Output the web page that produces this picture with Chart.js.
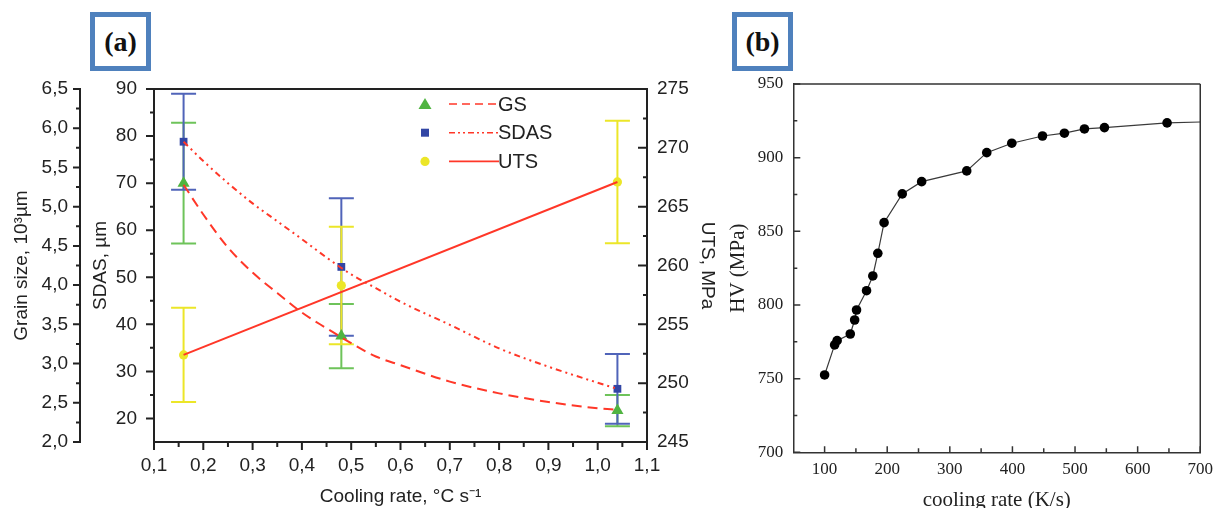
<!DOCTYPE html>
<html>
<head>
<meta charset="utf-8">
<script src="https://cdn.jsdelivr.net/npm/chart.js@4.4.1/dist/chart.umd.min.js"></script>
<style>
  html, body { margin: 0; padding: 0; background: #fff; }
  body { width: 1220px; height: 508px; position: relative; overflow: hidden; }
  .panel { position: absolute; top: 0; height: 508px; }
  #wrapA { left: 0; width: 720px; }
  #wrapB { left: 720px; width: 500px; }
  .tag { position: absolute; top: 12px; width: 61px; height: 59px; box-sizing: border-box;
         border: 5px solid #4f81bd; background: #fff; color: #111; z-index: 2;
         font: bold 28px "Liberation Serif", "Times New Roman", serif;
         display: flex; align-items: center; justify-content: center; }
</style>
</head>
<body>
<div class="panel" id="wrapA"><canvas id="chartA"></canvas></div>
<div class="panel" id="wrapB"><canvas id="chartB"></canvas></div>
<div class="tag" style="left:90px">(a)</div>
<div class="tag" style="left:732px">(b)</div>
<script>
Chart.defaults.font.family = '"Liberation Sans", Arial, sans-serif';
Chart.defaults.font.size = 19;
Chart.defaults.color = '#222';

// ---- panel (a) data, cooling rate in °C/s
const rateA = [0.16, 0.48, 1.04];
const gsVals = [5.30, 3.35, 2.40];
const gsErr = [0.77, 0.41, 0.20];
const sdasVals = [78.8, 52.2, 26.3];
const sdasErr = [10.2, 14.6, 7.4];
const utsVals = [252.4, 258.3, 267.1];
const utsErr = [4.0, 5.0, 5.2];

// fitted curves
const fitRate = [0.16, 0.2, 0.25, 0.3, 0.35, 0.4, 0.45, 0.5, 0.55, 0.6, 0.7, 0.8, 0.9, 1.0, 1.04];
const gsFit = [5.28, 4.90, 4.48, 4.16, 3.90, 3.65, 3.45, 3.26, 3.09, 2.98, 2.77, 2.62, 2.51, 2.43, 2.41];
const sdasFit = [78.8, 74.7, 70.0, 65.7, 61.9, 58.1, 54.2, 50.6, 47.7, 44.8, 39.9, 34.9, 31.0, 27.6, 26.3];
const utsFitRate = [0.16, 1.04];
const utsFit = [252.4, 267.1];

// tick labels
const rateTicks = [0.1, 0.2, 0.3, 0.4, 0.5, 0.6, 0.7, 0.8, 0.9, 1.0, 1.1];
const gsTicks = [2.0, 2.5, 3.0, 3.5, 4.0, 4.5, 5.0, 5.5, 6.0, 6.5];
const sdasTicks = [20, 30, 40, 50, 60, 70, 80, 90];
const utsTicks = [245, 250, 255, 260, 265, 270, 275];

// ---- panel (b) data, cooling rate in K/s
const rateB = [100, 116, 120, 141, 148, 151, 167, 177, 185, 195, 224, 255, 327, 359, 399, 448, 483, 515, 547, 647, 700];
const hvVals = [752.5, 772.9, 775.8, 780.3, 789.8, 796.6, 809.7, 819.7, 835.1, 855.9, 875.4, 883.7, 891.0, 903.4, 909.8, 914.7, 916.6, 919.5, 920.4, 923.6, 924.2];
const rateBTicks = [100, 200, 300, 400, 500, 600, 700];
const hvTicks = [700, 750, 800, 850, 900, 950];

const red = 'rgb(255,55,40)';
const green = 'rgb(80,180,65)';
const blue = 'rgb(50,70,165)';
const yellow = 'rgb(236,230,40)';
const axisCol = '#222';

const xy = (xs, ys) => xs.map((x, i) => ({ x: x, y: ys[i] }));
const toTicks = vals => vals.map(v => ({ value: v }));
const mids = vals => vals.slice(1).map((v, i) => (v + vals[i]) / 2);
const comma1 = v => Number(v).toFixed(1).replace('.', ',');

// small tick marks, major + minor, in or out of the frame
const tickMarks = {
  id: 'tickMarks',
  afterDraw(chart, args, opts) {
    const ctx = chart.ctx;
    ctx.save();
    ctx.strokeStyle = opts.color;
    ctx.lineWidth = opts.width;
    ctx.beginPath();
    opts.axes.forEach(t => {
      const s = chart.scales[t.id];
      const sign = t.inward ? -1 : 1;
      [[t.major, t.len[0]], [t.minor, t.len[1]]].forEach(([vals, len]) => {
        vals.forEach(v => {
          const p = s.getPixelForValue(v);
          if (s.position === 'bottom') {
            ctx.moveTo(p, s.top); ctx.lineTo(p, s.top + sign * len);
          } else if (s.position === 'left') {
            ctx.moveTo(s.right, p); ctx.lineTo(s.right - sign * len, p);
          } else {
            ctx.moveTo(s.left, p); ctx.lineTo(s.left + sign * len, p);
          }
        });
      });
    });
    ctx.stroke();
    ctx.restore();
  }
};

// frame lines the axes don't draw
const frame = {
  id: 'frame',
  afterDraw(chart, args, opts) {
    const { ctx, chartArea: a } = chart;
    ctx.save();
    ctx.strokeStyle = opts.color;
    ctx.lineWidth = opts.width;
    ctx.beginPath();
    if (opts.sides.includes('top')) { ctx.moveTo(a.left, a.top); ctx.lineTo(a.right, a.top); }
    if (opts.sides.includes('right')) { ctx.moveTo(a.right, a.top); ctx.lineTo(a.right, a.bottom); }
    ctx.stroke();
    ctx.restore();
  }
};

// vertical error bars with caps
const errorBars = {
  id: 'errorBars',
  beforeDatasetsDraw(chart, args, opts) {
    const ctx = chart.ctx;
    const xs = chart.scales.x;
    ctx.save();
    ctx.lineWidth = 2;
    opts.sets.forEach(set => {
      const ys = chart.scales[set.axis];
      ctx.strokeStyle = set.color;
      ctx.beginPath();
      set.x.forEach((xv, i) => {
        const px = xs.getPixelForValue(xv);
        const hi = ys.getPixelForValue(set.y[i] + set.err[i]);
        const lo = ys.getPixelForValue(set.y[i] - set.err[i]);
        ctx.moveTo(px, hi); ctx.lineTo(px, lo);
        ctx.moveTo(px - opts.cap, hi); ctx.lineTo(px + opts.cap, hi);
        ctx.moveTo(px - opts.cap, lo); ctx.lineTo(px + opts.cap, lo);
      });
      ctx.stroke();
    });
    ctx.restore();
  }
};

// legend inside the plot: marker, line sample, name
const legendA = {
  id: 'legendA',
  afterDraw(chart) {
    const { ctx, chartArea: a } = chart;
    const rows = [
      { name: 'GS', color: green, shape: 'triangle', dash: [8, 5] },
      { name: 'SDAS', color: blue, shape: 'rect', dash: [6, 3, 2, 3, 2, 3] },
      { name: 'UTS', color: yellow, shape: 'circle', dash: [] }
    ];
    ctx.save();
    rows.forEach((r, i) => {
      const y = a.top + 15 + i * 28.7;
      const mx = a.left + 271;
      ctx.fillStyle = r.color;
      ctx.beginPath();
      if (r.shape === 'triangle') {
        ctx.moveTo(mx, y - 6); ctx.lineTo(mx + 6.5, y + 5); ctx.lineTo(mx - 6.5, y + 5); ctx.closePath();
      } else if (r.shape === 'rect') {
        ctx.rect(mx - 4, y - 4, 8, 8);
      } else {
        ctx.arc(mx, y, 4.6, 0, Math.PI * 2);
      }
      ctx.fill();
      ctx.strokeStyle = red;
      ctx.lineWidth = 1.6;
      ctx.setLineDash(r.dash);
      ctx.beginPath();
      ctx.moveTo(a.left + 295, y); ctx.lineTo(a.left + 345, y);
      ctx.stroke();
      ctx.setLineDash([]);
      ctx.fillStyle = '#222';
      ctx.font = '20px "Liberation Sans", Arial, sans-serif';
      ctx.textBaseline = 'middle';
      ctx.fillText(r.name, a.left + 344, y + 1);
    });
    ctx.restore();
  }
};

const axisBase = {
  grid: { display: false, drawTicks: false, drawOnChartArea: false },
  border: { display: true, color: axisCol, width: 2 }
};

new Chart(document.getElementById('chartA'), {
  type: 'scatter',
  data: {
    datasets: [
      { type: 'line', label: 'UTS fit', data: xy(utsFitRate, utsFit), yAxisID: 'yUTS',
        borderColor: red, borderWidth: 2, pointRadius: 0, fill: false },
      { type: 'line', label: 'SDAS fit', data: xy(fitRate, sdasFit), yAxisID: 'ySDAS',
        borderColor: red, borderWidth: 2, borderDash: [6, 4, 2, 4, 2, 4], pointRadius: 0,
        cubicInterpolationMode: 'monotone', fill: false },
      { type: 'line', label: 'GS fit', data: xy(fitRate, gsFit), yAxisID: 'yGS',
        borderColor: red, borderWidth: 2, borderDash: [10, 6], pointRadius: 0,
        cubicInterpolationMode: 'monotone', fill: false },
      { label: 'GS', data: xy(rateA, gsVals), yAxisID: 'yGS', pointStyle: 'triangle',
        pointRadius: 7, backgroundColor: green, borderColor: green, borderWidth: 0 },
      { label: 'SDAS', data: xy(rateA, sdasVals), yAxisID: 'ySDAS', pointStyle: 'rect',
        pointRadius: 5.5, backgroundColor: blue, borderColor: blue, borderWidth: 0 },
      { label: 'UTS', data: xy(rateA, utsVals), yAxisID: 'yUTS', pointStyle: 'circle',
        pointRadius: 4.6, backgroundColor: yellow, borderColor: yellow, borderWidth: 0 }
    ]
  },
  options: {
    responsive: true,
    maintainAspectRatio: false,
    animation: false,
    events: [],
    layout: { padding: { top: 89, left: 0, right: 0, bottom: 0 } },
    plugins: {
      legend: { display: false },
      tooltip: { enabled: false },
      errorBars: {
        cap: 12.5,
        sets: [
          { x: rateA, y: gsVals, err: gsErr, axis: 'yGS', color: 'rgb(110,195,90)' },
          { x: rateA, y: sdasVals, err: sdasErr, axis: 'ySDAS', color: 'rgb(80,100,185)' },
          { x: rateA, y: utsVals, err: utsErr, axis: 'yUTS', color: yellow }
        ]
      },
      frame: { sides: ['top'], color: axisCol, width: 2 },
      tickMarks: {
        color: axisCol, width: 2,
        axes: [
          { id: 'x', major: rateTicks, minor: mids(rateTicks), len: [8, 5], inward: false },
          { id: 'yGS', major: gsTicks, minor: mids(gsTicks), len: [7, 4], inward: false },
          { id: 'ySDAS', major: sdasTicks, minor: mids(sdasTicks), len: [8, 4], inward: false },
          { id: 'yUTS', major: utsTicks, minor: mids(utsTicks), len: [9, 4], inward: true }
        ]
      }
    },
    scales: {
      x: {
        ...axisBase, type: 'linear', position: 'bottom', min: 0.1, max: 1.1,
        afterBuildTicks: s => { s.ticks = toTicks(rateTicks); },
        afterFit: s => { s.height = 66; },
        ticks: { padding: 12, autoSkip: false, maxRotation: 0, callback: v => comma1(v) },
        title: { display: true, text: 'Cooling rate, °C s⁻¹', padding: { top: 0, bottom: 0 } }
      },
      yGS: {
        ...axisBase, type: 'linear', position: 'left', weight: 2, min: 2, max: 6.5,
        afterBuildTicks: s => { s.ticks = toTicks(gsTicks); },
        afterFit: s => { s.width = 80; },
        ticks: { padding: 12, autoSkip: false, callback: v => comma1(v) },
        title: { display: true, text: 'Grain size, 10³µm', padding: { top: 10, bottom: 0 } }
      },
      ySDAS: {
        ...axisBase, type: 'linear', position: 'left', weight: 1, min: 15, max: 90,
        afterBuildTicks: s => { s.ticks = toTicks(sdasTicks); },
        afterFit: s => { s.width = 74; },
        ticks: { padding: 17, autoSkip: false },
        title: { display: true, text: 'SDAS, µm', padding: { top: 9, bottom: 0 } }
      },
      yUTS: {
        ...axisBase, type: 'linear', position: 'right', min: 245, max: 275,
        afterBuildTicks: s => { s.ticks = toTicks(utsTicks); },
        afterFit: s => { s.width = 73; },
        ticks: { padding: 10, autoSkip: false },
        title: { display: true, text: 'UTS, MPa', padding: { top: 1, bottom: 0 } }
      }
    }
  },
  plugins: [errorBars, frame, tickMarks, legendA]
});

const serif = '"Liberation Serif", "Times New Roman", serif';

new Chart(document.getElementById('chartB'), {
  type: 'line',
  data: {
    datasets: [{
      label: 'HV',
      data: xy(rateB, hvVals),
      borderColor: '#3a3a3a',
      borderWidth: 1.2,
      pointRadius: c => (c.dataIndex === hvVals.length - 1 ? 0 : 4.8),
      pointBackgroundColor: '#000',
      pointBorderWidth: 0,
      fill: false
    }]
  },
  options: {
    responsive: true,
    maintainAspectRatio: false,
    animation: false,
    events: [],
    layout: { padding: { top: 84, left: 0, right: 17.7, bottom: 0 } },
    plugins: {
      legend: { display: false },
      tooltip: { enabled: false },
      frame: { sides: ['top', 'right'], color: '#333', width: 1.5 },
      tickMarks: {
        color: '#333', width: 1.5,
        axes: [
          { id: 'x', major: rateBTicks, minor: [150, ...mids(rateBTicks)], len: [6, 4], inward: true },
          { id: 'y', major: hvTicks, minor: mids(hvTicks), len: [7, 4], inward: true }
        ]
      }
    },
    scales: {
      x: {
        type: 'linear', min: 50, max: 700,
        grid: { display: false, drawTicks: false, drawOnChartArea: false },
        border: { display: true, color: '#333', width: 1.5 },
        afterBuildTicks: s => { s.ticks = toTicks(rateBTicks); },
        afterFit: s => { s.height = 55.7; },
        ticks: { padding: 7, autoSkip: false, maxRotation: 0, font: { family: serif, size: 17 } },
        title: { display: true, text: 'cooling rate (K/s)', font: { family: serif, size: 21, lineHeight: 0.7 },
                 padding: { top: 0, bottom: 0 } }
      },
      y: {
        type: 'linear', min: 700, max: 950,
        grid: { display: false, drawTicks: false, drawOnChartArea: false },
        border: { display: true, color: '#333', width: 1.5 },
        afterBuildTicks: s => { s.ticks = toTicks(hvTicks); },
        afterFit: s => { s.width = 73.3; },
        ticks: { padding: 10, autoSkip: false, font: { family: serif, size: 17 } },
        title: { display: true, text: 'HV (MPa)', font: { family: serif, size: 21, lineHeight: 1 },
                 padding: { top: 8, bottom: 0 } }
      }
    }
  },
  plugins: [frame, tickMarks]
});
</script>
</body>
</html>
